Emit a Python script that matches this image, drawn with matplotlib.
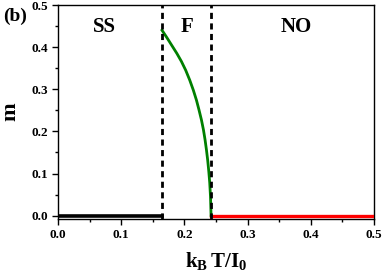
import numpy as np
import matplotlib
matplotlib.use('Agg')
import matplotlib.pyplot as plt
from matplotlib.ticker import MultipleLocator

# phase boundaries
T_ss = 0.1645
T_c = 0.2425

# ordered (F) branch
T_f = [0.1645, 0.172, 0.180, 0.188, 0.1952, 0.2020, 0.2084, 0.214, 0.219, 0.223,
       0.2269, 0.230, 0.2325, 0.2348, 0.2368, 0.2385, 0.2400, 0.2412, 0.2421]
m_f = [0.440, 0.423, 0.404, 0.385, 0.366, 0.345, 0.3215, 0.298, 0.274, 0.251,
       0.227, 0.204, 0.181, 0.156, 0.131, 0.105, 0.078, 0.045, 0.0]

# flat branches
T_ss_line = [0.0, T_ss]
m_ss_line = [0.0, 0.0]
T_no_line = [T_c, 0.5]
m_no_line = [0.0, 0.0]

phase_labels = ['SS', 'F', 'NO']
phase_x = [0.074, 0.204, 0.377]
phase_y = [0.447, 0.447, 0.447]

if __name__ == '__main__':
    plt.rcParams['font.family'] = ['Liberation Serif', 'DejaVu Serif']
    plt.rcParams['font.weight'] = 'bold'
    plt.rcParams['mathtext.fontset'] = 'custom'
    plt.rcParams['mathtext.bf'] = 'Liberation Serif:bold'
    plt.rcParams['mathtext.rm'] = 'Liberation Serif:bold'

    fig = plt.figure(figsize=(3.9, 2.79), dpi=100)
    ax = fig.add_axes([0.149, 0.215, 0.81, 0.767])

    ax.plot(T_ss_line, m_ss_line, color='black', lw=2.6, zorder=3)
    ax.plot(T_no_line, m_no_line, color='red', lw=2.4, zorder=3)
    ax.plot(T_f, m_f, color='green', lw=2.0, zorder=3)

    ax.axvline(T_ss, color='black', lw=2.0, ls=(0, (2.2, 1.6)), zorder=4)
    ax.axvline(T_c, color='black', lw=2.0, ls=(0, (2.2, 1.6)), zorder=4)

    for lab, x, y in zip(phase_labels, phase_x, phase_y):
        ax.text(x, y, lab, ha='center', va='center', fontsize=15, fontweight='bold')

    ax.set_xlim(0, 0.5)
    ax.set_ylim(-0.008, 0.5)
    ax.xaxis.set_major_locator(MultipleLocator(0.1))
    ax.xaxis.set_minor_locator(MultipleLocator(0.05))
    ax.yaxis.set_major_locator(MultipleLocator(0.1))
    ax.yaxis.set_minor_locator(MultipleLocator(0.05))
    ax.tick_params(which='both', direction='out', top=False, right=False, labelsize=9.5, width=1)
    ax.tick_params(which='major', length=4)
    ax.tick_params(which='minor', length=2.5)
    for lbl in ax.get_xticklabels() + ax.get_yticklabels():
        lbl.set_fontweight('bold')
    for s in ax.spines.values():
        s.set_linewidth(1.0)

    ax.set_xlabel(r'$\mathbf{k_B\,T/I_0}$', fontsize=15, labelpad=6)
    ax.set_ylabel('m', fontsize=16, fontweight='bold', labelpad=8)
    fig.text(0.008, 0.925, '(b)', fontsize=14, fontweight='bold')

    plt.savefig('out.png', dpi=100)
